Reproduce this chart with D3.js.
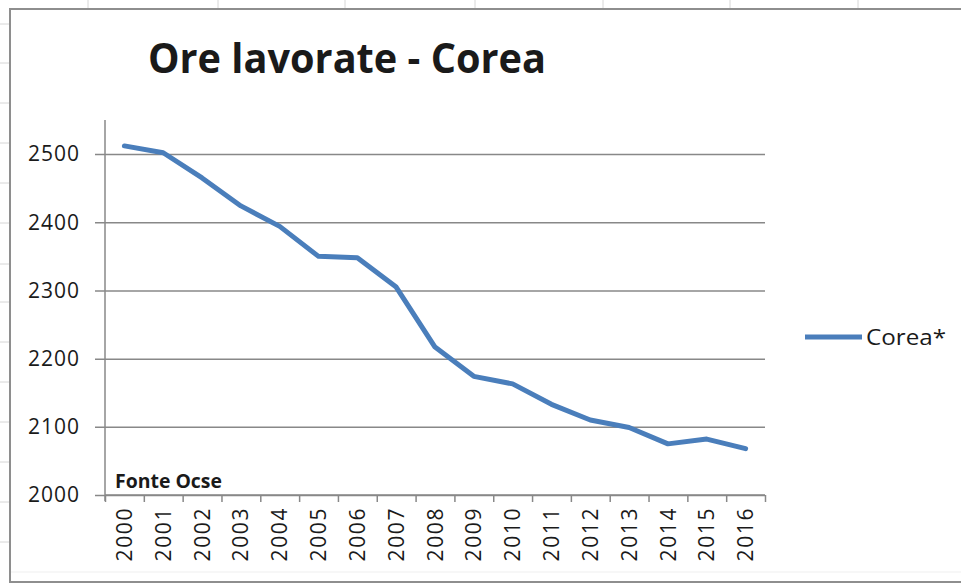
<!DOCTYPE html>
<html>
<head>
<meta charset="utf-8">
<script src="https://cdn.jsdelivr.net/npm/d3@7"></script>
<style>
  html, body { margin: 0; padding: 0; background: #fff; }
  svg { display: block; }
  text { font-family: "Open Sans", "Noto Sans", sans-serif; fill: #1a1a1a; }
</style>
</head>
<body>
<svg id="chart" width="961" height="584"></svg>
<script>
// Annual hours actually worked per worker, Korea (OECD)
const years = ["2000","2001","2002","2003","2004","2005","2006","2007","2008",
               "2009","2010","2011","2012","2013","2014","2015","2016"];
const hours = [2512, 2502, 2465, 2424, 2394, 2350, 2348, 2305, 2217,
               2174, 2163, 2133, 2110, 2099, 2075, 2082, 2068];
const yTicks = [2000, 2100, 2200, 2300, 2400, 2500];
const seriesName = "Corea*";
const titleText = "Ore lavorate - Corea";
const sourceText = "Fonte Ocse";

const svg = d3.select("#chart");

// spreadsheet cell grid showing around the chart object
const sheet = svg.append("g");
sheet.append("rect").attr("width", 961).attr("height", 584).attr("fill", "#fff");
[88, 218, 345, 475, 603, 730, 858].forEach(cx =>
  sheet.append("line").attr("x1", cx).attr("x2", cx).attr("y1", 0).attr("y2", 9)
    .attr("stroke", "#d6d6d6").attr("stroke-width", 1));
[24, 63, 103, 143, 183, 223, 264, 302, 342, 382, 422, 462, 502, 542].forEach(cy =>
  sheet.append("line").attr("x1", 0).attr("x2", 9).attr("y1", cy).attr("y2", cy)
    .attr("stroke", "#d6d6d6").attr("stroke-width", 1));

// chart object frame
svg.append("rect")
  .attr("x", 10).attr("y", 9).attr("width", 980).attr("height", 573)
  .attr("fill", "#fff").attr("stroke", "#8e8e8e").attr("stroke-width", 2);
svg.append("line").attr("x1", 11).attr("x2", 961).attr("y1", 572).attr("y2", 572)
  .attr("stroke", "#efefef").attr("stroke-width", 1);

const plot = { left: 105, right: 765, top: 120, bottom: 495 };

const x = d3.scaleBand().domain(years).range([plot.left, plot.right]).padding(0);
const xEdge = d3.scaleLinear().domain([0, years.length]).range([plot.left, plot.right]);
const y = d3.scaleLinear().domain([2000, 2550]).range([plot.bottom, plot.top]);

const gridColor = "#888888";

// horizontal gridlines with outer ticks and value labels
const yAxis = svg.append("g")
  .attr("transform", `translate(${plot.right},0)`)
  .call(d3.axisLeft(y).tickValues(yTicks).tickSize(plot.right - 95).tickPadding(15)
        .tickFormat(d3.format("d")));
yAxis.select(".domain").remove();
yAxis.selectAll(".tick line").attr("stroke", gridColor).attr("stroke-width", 1.5);
yAxis.selectAll(".tick text")
  .style("font-size", "21px").style("letter-spacing", "1px").attr("fill", "#1a1a1a");

// vertical value axis line
svg.append("line")
  .attr("x1", plot.left).attr("x2", plot.left)
  .attr("y1", plot.top).attr("y2", plot.bottom + 6)
  .attr("stroke", gridColor).attr("stroke-width", 1.5);

// category axis: ticks between categories
const xTicks = svg.append("g")
  .attr("transform", `translate(0,${plot.bottom})`)
  .call(d3.axisBottom(xEdge).tickValues(d3.range(years.length + 1)).tickSize(7).tickFormat(""));
xTicks.select(".domain").attr("stroke", gridColor).attr("stroke-width", 1.5)
  .attr("d", `M${plot.left},0H${plot.right}`);
xTicks.selectAll(".tick line").attr("stroke", gridColor).attr("stroke-width", 1.5);

// category labels, rotated
const xLabels = svg.append("g")
  .attr("transform", `translate(0,${plot.bottom})`)
  .call(d3.axisBottom(x).tickSize(0).tickPadding(0));
xLabels.select(".domain").remove();
xLabels.selectAll(".tick text")
  .attr("transform", "rotate(-90)")
  .attr("text-anchor", "end")
  .attr("x", -12).attr("y", 0).attr("dy", "0.36em")
  .style("font-size", "21px").style("letter-spacing", "1.6px").attr("fill", "#1a1a1a");

// data line
const line = d3.line()
  .x((d, i) => x(years[i]) + x.bandwidth() / 2)
  .y(d => y(d));
svg.append("path")
  .datum(hours)
  .attr("d", line)
  .attr("fill", "none")
  .attr("stroke", "#4a7ebb")
  .attr("stroke-width", 5)
  .attr("stroke-linejoin", "round")
  .attr("stroke-linecap", "round");

// title
svg.append("text")
  .attr("x", 148).attr("y", 73)
  .attr("textLength", 398).attr("lengthAdjust", "spacingAndGlyphs")
  .style("font-size", "41px").style("font-weight", 700).attr("fill", "#000")
  .text(titleText);

// source note
svg.append("text")
  .attr("x", 115).attr("y", 488)
  .attr("textLength", 107).attr("lengthAdjust", "spacingAndGlyphs")
  .style("font-size", "19px").style("font-weight", 700).attr("fill", "#1a1a1a")
  .text(sourceText);

// legend
const legend = svg.append("g").attr("transform", "translate(805,337)");
legend.append("line").attr("x1", 0).attr("x2", 57).attr("y1", 0).attr("y2", 0)
  .attr("stroke", "#4a7ebb").attr("stroke-width", 5);
legend.append("text").attr("x", 61).attr("y", 0).attr("dy", "0.36em")
  .attr("textLength", 80).attr("lengthAdjust", "spacingAndGlyphs")
  .style("font-size", "22px").attr("fill", "#333")
  .text(seriesName);
</script>
</body>
</html>
